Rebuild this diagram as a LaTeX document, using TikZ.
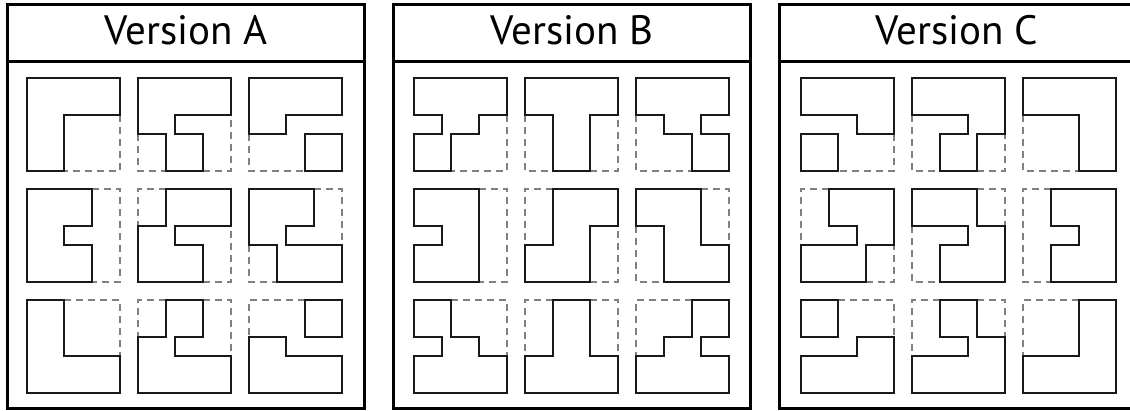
\documentclass[tikz,border=0pt]{standalone}
\usepackage{fontspec}
\setmainfont{PT Sans}
\tikzset{
  solidline/.style={line width=2.4pt,black!90,line join=miter},
  dashline/.style={line width=1.4pt,black!50,dash pattern=on 7pt off 5pt},
  panelline/.style={line width=3pt,black},
  titletext/.style={anchor=base,inner sep=0pt,font=\fontsize{41}{48}\selectfont}
}
\newcommand\drawtile[4]{%
  \begin{scope}[shift={(#1,#2)},x=9.3pt,y=-9.3pt]
    \draw[dashline] #4;
    \draw[solidline] #3;
  \end{scope}}
\begin{document}
\begin{tikzpicture}[x=1pt,y=-1pt]
\useasboundingbox (0,0) rectangle (1130,411);
% panels
\foreach \px in {7,393,779}{
  \draw[panelline] (\px,5) rectangle (\px+357,409);
  \draw[panelline] (\px,62) -- (\px+357,62);
}
\node[titletext] (titleA) at (186,45) {Version A};
\node[titletext] (titleB) at (572,45) {Version B};
\node[titletext] (titleC) at (957,45) {Version C};
% ---------- Version A ----------
\drawtile{27}{78}{(4,10)--(0,10)--(0,0)--(10,0)--(10,4)--(4,4)--cycle}{(10,4)--(10,10)--(4,10)}
\drawtile{138}{78}{(0,6)--(0,0)--(10,0)--(10,4)--(4,4)--(4,6)--(7,6)--(7,10)--(3,10)--(3,6)--cycle}{(0,6)--(0,10)--(3,10) (7,10)--(10,10)--(10,4)}
\drawtile{249}{78}{(0,6)--(0,0)--(10,0)--(10,4)--(4,4)--(4,6)--cycle (6,6) rectangle (10,10)}{(0,6)--(0,10)--(6,10)}
\drawtile{27}{189}{(0,0)--(7,0)--(7,4)--(4,4)--(4,6)--(7,6)--(7,10)--(0,10)--cycle}{(7,0)--(10,0)--(10,10)--(7,10)}
\drawtile{138}{189}{(3,0)--(10,0)--(10,4)--(4,4)--(4,6)--(7,6)--(7,10)--(0,10)--(0,4)--(3,4)--cycle}{(3,0)--(0,0)--(0,4) (7,10)--(10,10)--(10,4)}
\drawtile{249}{189}{(0,0)--(7,0)--(7,4)--(4,4)--(4,6)--(10,6)--(10,10)--(3,10)--(3,6)--(0,6)--cycle}{(7,0)--(10,0)--(10,6) (0,6)--(0,10)--(3,10)}
\drawtile{27}{300}{(0,0)--(4,0)--(4,6)--(10,6)--(10,10)--(0,10)--cycle}{(4,0)--(10,0)--(10,6)}
\drawtile{138}{300}{(3,0)--(7,0)--(7,4)--(4,4)--(4,6)--(10,6)--(10,10)--(0,10)--(0,4)--(3,4)--cycle}{(3,0)--(0,0)--(0,4) (7,0)--(10,0)--(10,6)}
\drawtile{249}{300}{(6,0) rectangle (10,4) (0,4)--(4,4)--(4,6)--(10,6)--(10,10)--(0,10)--cycle}{(6,0)--(0,0)--(0,4)}
% ---------- Version B ----------
\drawtile{414}{78}{(0,4)--(0,0)--(10,0)--(10,4)--(7,4)--(7,6)--(4,6)--(4,10)--(0,10)--(0,6)--(3,6)--(3,4)--cycle}{(10,4)--(10,10)--(4,10)}
\drawtile{525}{78}{(0,4)--(0,0)--(10,0)--(10,4)--(7,4)--(7,10)--(3,10)--(3,4)--cycle}{(0,4)--(0,10)--(3,10) (7,10)--(10,10)--(10,4)}
\drawtile{636}{78}{(0,4)--(0,0)--(10,0)--(10,4)--(7,4)--(7,6)--(10,6)--(10,10)--(6,10)--(6,6)--(3,6)--(3,4)--cycle}{(0,4)--(0,10)--(6,10)}
\drawtile{414}{189}{(0,0)--(7,0)--(7,10)--(0,10)--(0,6)--(3,6)--(3,4)--(0,4)--cycle}{(7,0)--(10,0)--(10,10)--(7,10)}
\drawtile{525}{189}{(3,0)--(10,0)--(10,4)--(7,4)--(7,10)--(0,10)--(0,6)--(3,6)--cycle}{(3,0)--(0,0)--(0,6) (7,10)--(10,10)--(10,4)}
\drawtile{636}{189}{(0,0)--(7,0)--(7,6)--(10,6)--(10,10)--(3,10)--(3,4)--(0,4)--cycle}{(7,0)--(10,0)--(10,6) (0,4)--(0,10)--(3,10)}
\drawtile{414}{300}{(0,0)--(4,0)--(4,4)--(7,4)--(7,6)--(10,6)--(10,10)--(0,10)--(0,6)--(3,6)--(3,4)--(0,4)--cycle}{(4,0)--(10,0)--(10,6)}
\drawtile{525}{300}{(3,0)--(7,0)--(7,6)--(10,6)--(10,10)--(0,10)--(0,6)--(3,6)--cycle}{(3,0)--(0,0)--(0,6) (7,0)--(10,0)--(10,6)}
\drawtile{636}{300}{(6,0)--(10,0)--(10,4)--(7,4)--(7,6)--(10,6)--(10,10)--(0,10)--(0,6)--(3,6)--(3,4)--(6,4)--cycle}{(6,0)--(0,0)--(0,6)}
% ---------- Version C ----------
\drawtile{801}{78}{(0,4)--(0,0)--(10,0)--(10,6)--(6,6)--(6,4)--cycle (0,6) rectangle (4,10)}{(10,6)--(10,10)--(4,10)}
\drawtile{912}{78}{(0,4)--(0,0)--(10,0)--(10,6)--(7,6)--(7,10)--(3,10)--(3,6)--(6,6)--(6,4)--cycle}{(0,4)--(0,10)--(3,10) (7,10)--(10,10)--(10,6)}
\drawtile{1023}{78}{(0,4)--(0,0)--(10,0)--(10,10)--(6,10)--(6,4)--cycle}{(0,4)--(0,10)--(6,10)}
\drawtile{801}{189}{(3,0)--(10,0)--(10,6)--(7,6)--(7,10)--(0,10)--(0,6)--(6,6)--(6,4)--(3,4)--cycle}{(3,0)--(0,0)--(0,6) (7,10)--(10,10)--(10,6)}
\drawtile{912}{189}{(0,0)--(7,0)--(7,4)--(10,4)--(10,10)--(3,10)--(3,6)--(6,6)--(6,4)--(0,4)--cycle}{(7,0)--(10,0)--(10,4) (0,4)--(0,10)--(3,10)}
\drawtile{1023}{189}{(3,0)--(10,0)--(10,10)--(3,10)--(3,6)--(6,6)--(6,4)--(3,4)--cycle}{(3,0)--(0,0)--(0,10)--(3,10)}
\drawtile{801}{300}{(0,0) rectangle (4,4) (0,6)--(6,6)--(6,4)--(10,4)--(10,10)--(0,10)--cycle}{(4,0)--(10,0)--(10,4)}
\drawtile{912}{300}{(3,0)--(7,0)--(7,4)--(10,4)--(10,10)--(0,10)--(0,6)--(6,6)--(6,4)--(3,4)--cycle}{(3,0)--(0,0)--(0,6) (7,0)--(10,0)--(10,4)}
\drawtile{1023}{300}{(6,0)--(10,0)--(10,10)--(0,10)--(0,6)--(6,6)--cycle}{(6,0)--(0,0)--(0,6)}
\end{tikzpicture}
\end{document}
